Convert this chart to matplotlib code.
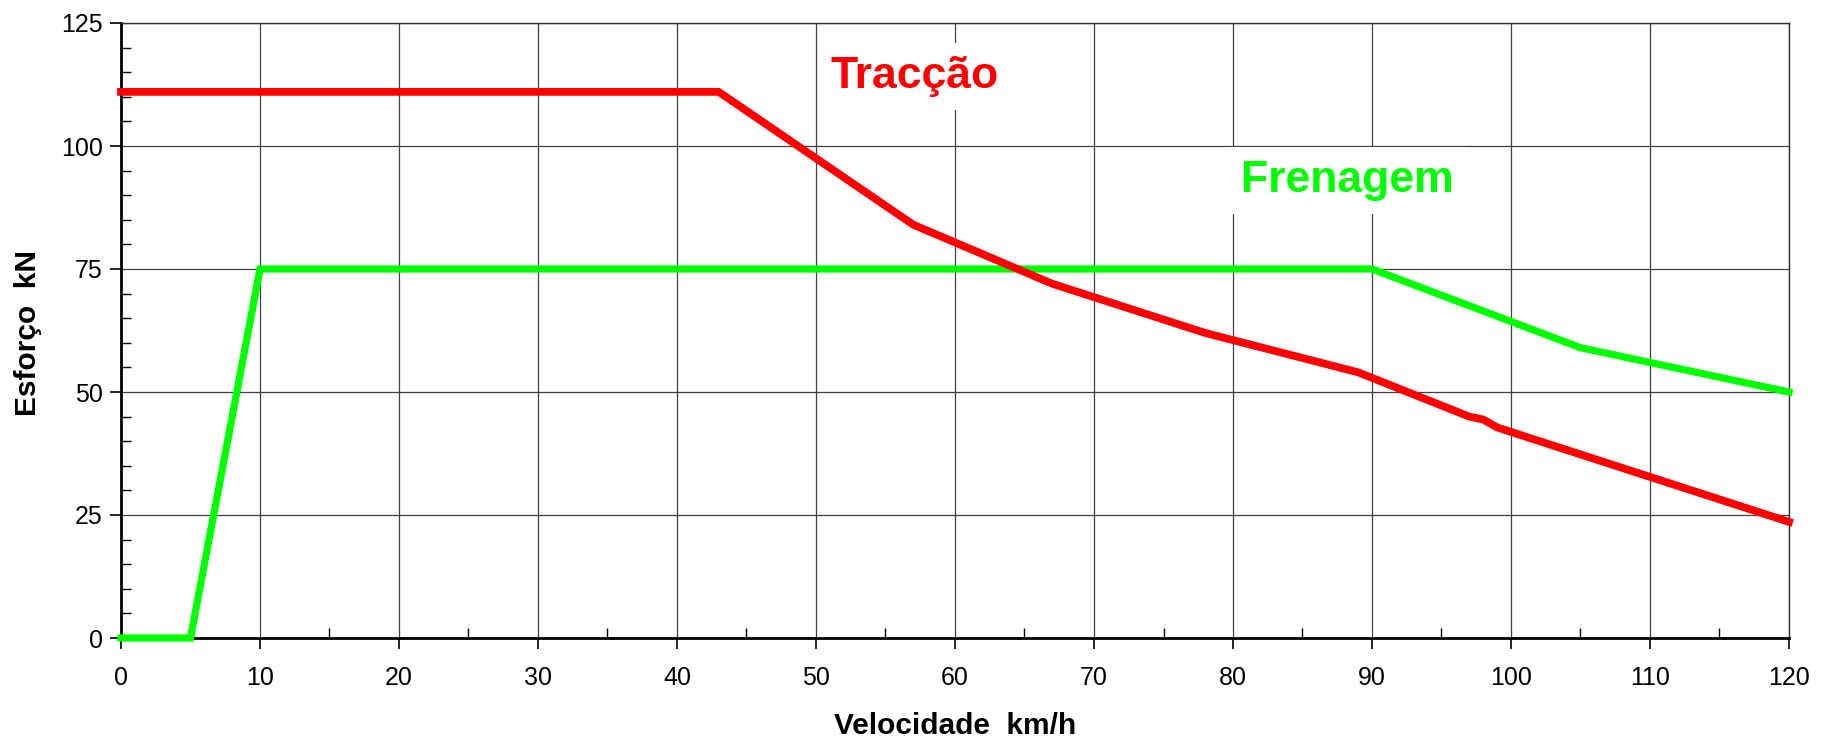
import numpy as np
import matplotlib
matplotlib.use("Agg")
import matplotlib.pyplot as plt
from matplotlib.ticker import MultipleLocator

plt.rcParams["font.family"] = ["Liberation Sans", "DejaVu Sans"]

# traction effort curve (km/h, kN)
tracao_v = [0, 43, 57, 67, 78, 89, 97, 98, 99, 120]
tracao_f = [111, 111, 84, 72, 62, 54, 45, 44.4, 42.8, 23.6]

# braking effort curve (km/h, kN)
frenagem_v = [0, 5, 10, 90, 105, 120]
frenagem_f = [0, 0, 75, 75, 59, 50]

x_ticks = list(range(0, 121, 10))
y_ticks = [0, 25, 50, 75, 100, 125]

RED = "#ff0000"
GREEN = "#00ff00"

fig = plt.figure(figsize=(18.24, 7.44), dpi=100)
ax = fig.add_axes([121 / 1824, 1 - 638 / 744, (1789 - 121) / 1824, (638 - 23) / 744])

ax.set_xlim(0, 120)
ax.set_ylim(0, 125)
ax.set_xticks(x_ticks)
ax.set_yticks(y_ticks)
ax.xaxis.set_minor_locator(MultipleLocator(5))
ax.yaxis.set_minor_locator(MultipleLocator(5))

ax.grid(True, which="major", color="#404040", lw=0.9)
ax.set_axisbelow(True)

ax.tick_params(axis="both", which="major", direction="out", length=8,
               width=1.2, labelsize=18, color="black")
ax.tick_params(axis="x", which="major", pad=12.5)
ax.tick_params(axis="y", which="major", pad=5)
ax.tick_params(axis="both", which="minor", direction="in", length=7, width=1.0)

for side in ["left", "bottom"]:
    ax.spines[side].set_linewidth(2.0)
for side in ["top", "right"]:
    ax.spines[side].set_linewidth(1.0)
    ax.spines[side].set_color("#303030")

ax.plot(frenagem_v, frenagem_f, color=GREEN, lw=5.2, clip_on=False, zorder=3,
        solid_joinstyle="miter")
ax.plot(tracao_v, tracao_f, color=RED, lw=5.6, clip_on=False, zorder=4,
        solid_joinstyle="miter")

box = dict(boxstyle="square,pad=0.3", facecolor="white", edgecolor="none")
ax.text(57.12, 111.8, "Tracção", color=RED, fontsize=32, fontweight="bold",
        ha="center", va="baseline", bbox=box, zorder=2)
ax.text(88.2, 90.65, "Frenagem", color=GREEN, fontsize=32, fontweight="bold",
        ha="center", va="baseline", bbox=box, zorder=2)

fig.text(955 / 1824, 1 - 726 / 744, "Velocidade  km/h", fontsize=21.5,
         fontweight="bold", ha="center", va="center")
fig.text(28 / 1824, 1 - 333 / 744, "Esforço  kN", fontsize=21.5,
         fontweight="bold", ha="center", va="center", rotation=90)

fig.savefig("out.png", dpi=100)
